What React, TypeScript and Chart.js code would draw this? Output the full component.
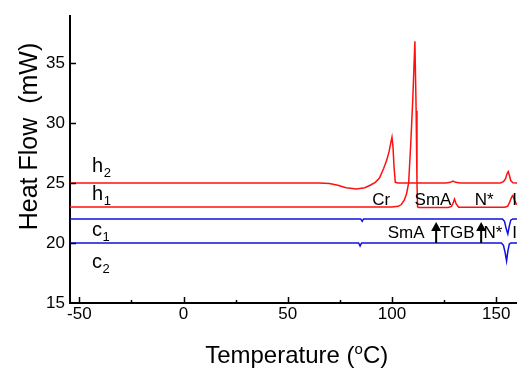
import React, { useEffect, useRef } from "react";
import { Chart, registerables } from "chart.js";

Chart.register(...registerables);

// ---- data (Temperature °C, Heat Flow mW) ----
const h2T = [-55, 65, 70, 74, 78, 83, 87, 90, 92, 94, 96, 97.5, 98.6, 99.5, 100, 100.5, 101, 101.6, 103, 126, 128, 129.3, 130.5, 133, 152, 153.5, 154.5, 155.3, 155.8, 156.4, 157, 158, 160];
const h2Y = [25, 25, 24.95, 24.8, 24.6, 24.5, 24.6, 24.85, 25.05, 25.4, 26.2, 26.9, 27.6, 28.4, 28.8, 28.0, 26.3, 25.05, 25, 25, 25.05, 25.15, 25.05, 25, 25, 25.1, 25.35, 25.8, 25.95, 25.6, 25.2, 25.02, 25];

const h1T = [-55, 100, 103, 104.5, 106, 107, 108, 109, 110, 111, 111.6, 112, 112.3, 113, 127, 128.5, 129.3, 130, 130.8, 132, 154, 155.5, 156.5, 157.5, 158, 158.7, 159.5, 160];
const h1Y = [23, 23, 23.05, 23.2, 23.6, 24.1, 25, 28.2, 32, 36.8, 31, 25, 23, 22.95, 22.95, 23.05, 23.3, 23.65, 23.25, 22.97, 22.97, 23.05, 23.4, 23.85, 23.95, 23.6, 23.3, 23.2];

const c1T = [-55, 85, 85.7, 86.4, 153, 154, 154.8, 155.6, 156.3, 157, 158, 160];
const c1Y = [22, 22, 21.8, 22, 22, 21.8, 21.2, 20.75, 21.4, 21.9, 22, 22];

const c2T = [-55, 84, 84.7, 85.4, 152.5, 153.5, 154.3, 155, 155.6, 156.3, 157, 160];
const c2Y = [20, 20, 19.75, 20, 20, 19.8, 19.2, 18.5, 19.3, 19.9, 20, 20];

// curve name labels (left side)
const curveLabelBase = ["h", "h", "c", "c"];
const curveLabelSub = ["2", "1", "1", "2"];
const curveLabelT = [-43.9, -43.9, -43.9, -43.9];
const curveLabelY = [25.94, 23.58, 20.58, 17.92];

// phase labels
const phaseText = ["Cr", "SmA", "N*", "I", "SmA", "TGB", "N*", "I"];
const phaseT = [94.8, 119.7, 144.2, 157.7, 106.8, 131.3, 148.5, 157.7];
const phaseY = [23.17, 23.17, 23.17, 23.17, 20.42, 20.42, 20.42, 20.42];
const phaseAlign = ["center", "center", "center", "left", "center", "center", "center", "left"];

// arrows (transition markers on cooling)
const arrowT = [121.2, 142.8];
const arrowFrom = [20, 20];
const arrowTo = [21.75, 21.75];

// axis ticks
const xMajor = [-50, 0, 50, 100, 150];
const xMinor = [-25, 25, 75, 125];
const yMajor = [15, 20, 25, 30, 35];

const FONT = "'Liberation Sans', Arial, Helvetica, sans-serif";

const toPts = (t: number[], y: number[]) => t.map((v, i) => ({ x: v, y: y[i] }));

const overlay = {
  id: "overlay",
  afterDraw(chart: any) {
    const ctx = chart.ctx as CanvasRenderingContext2D;
    const xs = chart.scales.x;
    const ys = chart.scales.y;
    const area = chart.chartArea;
    ctx.save();
    ctx.strokeStyle = "#000";
    ctx.lineWidth = 1.5;
    // inward ticks
    xMajor.forEach((v) => {
      const px = Math.round(xs.getPixelForValue(v)) + 0.5;
      ctx.beginPath();
      ctx.moveTo(px, area.bottom);
      ctx.lineTo(px, area.bottom - 6);
      ctx.stroke();
    });
    xMinor.forEach((v) => {
      const px = Math.round(xs.getPixelForValue(v)) + 0.5;
      ctx.beginPath();
      ctx.moveTo(px, area.bottom);
      ctx.lineTo(px, area.bottom - 3);
      ctx.stroke();
    });
    yMajor.forEach((v) => {
      if (v === 15) return;
      const py = Math.round(ys.getPixelForValue(v)) + 0.5;
      ctx.beginPath();
      ctx.moveTo(area.left, py);
      ctx.lineTo(area.left + 6, py);
      ctx.stroke();
    });

    ctx.fillStyle = "#000";
    // curve labels with subscripts
    curveLabelBase.forEach((b, i) => {
      const px = xs.getPixelForValue(curveLabelT[i]);
      const py = ys.getPixelForValue(curveLabelY[i]);
      ctx.font = `20px ${FONT}`;
      ctx.textAlign = "left";
      ctx.textBaseline = "alphabetic";
      ctx.fillText(b, px, py);
      const w = ctx.measureText(b).width;
      ctx.font = `13px ${FONT}`;
      ctx.fillText(curveLabelSub[i], px + w + 0.5, py + 5);
    });

    // phase labels
    ctx.font = `17px ${FONT}`;
    ctx.textBaseline = "alphabetic";
    phaseText.forEach((t, i) => {
      ctx.textAlign = phaseAlign[i] as CanvasTextAlign;
      ctx.fillText(t, xs.getPixelForValue(phaseT[i]), ys.getPixelForValue(phaseY[i]));
    });

    // arrows
    arrowT.forEach((t, i) => {
      const px = xs.getPixelForValue(t);
      const y0 = ys.getPixelForValue(arrowFrom[i]);
      const y1 = ys.getPixelForValue(arrowTo[i]);
      ctx.lineWidth = 2;
      ctx.beginPath();
      ctx.moveTo(px, y0);
      ctx.lineTo(px, y1 + 6);
      ctx.stroke();
      ctx.beginPath();
      ctx.moveTo(px, y1);
      ctx.lineTo(px - 5, y1 + 9);
      ctx.lineTo(px + 5, y1 + 9);
      ctx.closePath();
      ctx.fill();
    });

    // x title with superscript o
    ctx.textAlign = "left";
    ctx.textBaseline = "alphabetic";
    const big = `24px ${FONT}`;
    const small = `15px ${FONT}`;
    const p1 = "Temperature (";
    const p2 = "o";
    const p3 = "C)";
    ctx.font = big;
    const w1 = ctx.measureText(p1).width;
    const w3 = ctx.measureText(p3).width;
    ctx.font = small;
    const w2 = ctx.measureText(p2).width;
    const total = w1 + w2 + w3;
    const cx = 296.7;
    const base = 363;
    let x0 = cx - total / 2;
    ctx.font = big;
    ctx.fillText(p1, x0, base);
    x0 += w1;
    ctx.font = small;
    ctx.fillText(p2, x0, base - 9);
    x0 += w2;
    ctx.font = big;
    ctx.fillText(p3, x0, base);

    // y title
    ctx.save();
    ctx.translate(37, 136.5);
    ctx.rotate(-Math.PI / 2);
    ctx.font = `25px ${FONT}`;
    ctx.textAlign = "center";
    ctx.fillText("Heat Flow  (mW)", 0, 0);
    ctx.restore();

    ctx.restore();
  },
};

export default function App() {
  const ref = useRef<HTMLCanvasElement | null>(null);
  useEffect(() => {
    if (!ref.current) return;
    const chart = new Chart(ref.current, {
      type: "line",
      data: {
        datasets: [
          { data: toPts(h2T, h2Y), borderColor: "#ff1010", borderWidth: 1.5, pointRadius: 0, tension: 0 },
          { data: toPts(h1T, h1Y), borderColor: "#ff1010", borderWidth: 1.5, pointRadius: 0, tension: 0 },
          { data: toPts(c1T, c1Y), borderColor: "#1010e0", borderWidth: 1.5, pointRadius: 0, tension: 0 },
          { data: toPts(c2T, c2Y), borderColor: "#1010e0", borderWidth: 1.5, pointRadius: 0, tension: 0 },
        ],
      },
      options: {
        responsive: false,
        animation: false,
        devicePixelRatio: 1,
        layout: { padding: { top: 16, right: 0, left: 0, bottom: 0 } },
        plugins: { legend: { display: false }, tooltip: { enabled: false } },
        scales: {
          x: {
            type: "linear",
            min: -54.5,
            max: 160,
            afterBuildTicks: (s: any) => {
              s.ticks = xMajor.map((v) => ({ value: v }));
            },
            afterFit: (s: any) => {
              s.height = 66;
            },
            ticks: { color: "#000", font: { size: 17, family: FONT }, padding: 1, maxRotation: 0, autoSkip: false },
            grid: { display: false, drawTicks: false },
            border: { display: true, color: "#000", width: 2 },
          },
          y: {
            type: "linear",
            min: 15,
            max: 38.9,
            afterBuildTicks: (s: any) => {
              s.ticks = yMajor.map((v) => ({ value: v }));
            },
            afterFit: (s: any) => {
              s.width = 70;
            },
            ticks: { color: "#000", font: { size: 17, family: FONT }, padding: 5 },
            grid: { display: false, drawTicks: false },
            border: { display: true, color: "#000", width: 2 },
          },
        },
      },
      plugins: [overlay],
    });
    return () => chart.destroy();
  }, []);
  return (
    <div style={{ position: "fixed", left: 0, top: 0, width: 517, height: 369, background: "#fff" }}>
      <canvas ref={ref} width={517} height={369} style={{ display: "block" }} />
    </div>
  );
}
